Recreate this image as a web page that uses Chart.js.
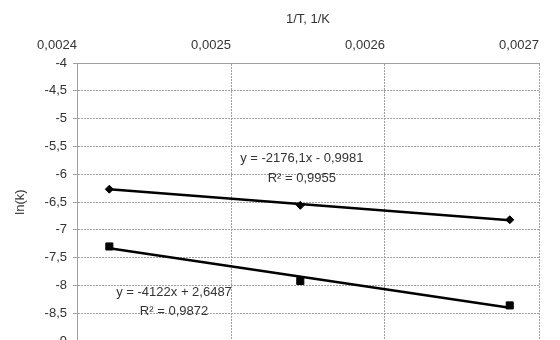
<!DOCTYPE html>
<html>
<head>
<meta charset="utf-8">
<script src="https://cdn.jsdelivr.net/npm/chart.js@4.4.0/dist/chart.umd.min.js"></script>
<style>
  html, body { margin: 0; padding: 0; background: #fff; overflow: hidden; }
  #wrap { width: 560px; height: 360px; }
</style>
</head>
<body>
<div id="wrap"><canvas id="chart" width="560" height="360"></canvas></div>
<script>
// 1/T values (T = 413, 393, 373 K)
const invT = [0.002421, 0.002545, 0.002681];
const lnK1 = [-6.27, -6.56, -6.82];   // diamonds
const lnK2 = [-7.30, -7.92, -8.36];   // squares
// trendline ends
const trend1 = [-6.27, -6.83];
const trend2 = [-7.33, -8.40];
const trendEq1 = ['y = -2176,1x - 0,9981', 'R² = 0,9955'];
const trendEq2 = ['y = -4122x + 2,6487', 'R² = 0,9872'];

const FONT = '"Liberation Sans", Arial, sans-serif';
const TXT = '#333';
const GRID = '#a0a0a0';

const comma = v => String(v).replace('.', ',');
const pts = (xs, ys) => xs.map((x, i) => ({ x, y: ys[i] }));
const ends = [invT[0], invT[invT.length - 1]];

// where the equation labels sit, in data units
const eqPos = [
  { x: 0.002546, y: -5.71, dy: 20, lines: trendEq1 },
  { x: 0.002463, y: -8.13, dy: 19, lines: trendEq2 },
];

const eqLabels = {
  id: 'eqLabels',
  afterDatasetsDraw(chart) {
    const { ctx, scales: { x, y } } = chart;
    ctx.save();
    ctx.font = `13px ${FONT}`;
    ctx.fillStyle = TXT;
    ctx.textAlign = 'center';
    ctx.textBaseline = 'middle';
    eqPos.forEach(p => {
      const px = x.getPixelForValue(p.x), py = y.getPixelForValue(p.y);
      p.lines.forEach((t, i) => ctx.fillText(t, px, py + i * p.dy));
    });
    ctx.restore();
  }
};

new Chart(document.getElementById('chart'), {
  type: 'scatter',
  data: {
    datasets: [
      { data: pts(ends, trend1), showLine: true, borderColor: '#000', borderWidth: 2.5, pointRadius: 0 },
      { data: pts(ends, trend2), showLine: true, borderColor: '#000', borderWidth: 2.5, pointRadius: 0 },
      { data: pts(invT, lnK1), pointStyle: 'rectRot', pointRadius: 4, backgroundColor: '#000', borderColor: '#000' },
      { data: pts(invT, lnK2), pointStyle: 'rect', pointRadius: 5, backgroundColor: '#000', borderColor: '#000' },
    ],
  },
  options: {
    responsive: false, animation: false, devicePixelRatio: 1,
    layout: { padding: { left: 0, top: 0, right: 21, bottom: 19 } },
    plugins: { legend: { display: false }, tooltip: { enabled: false } },
    scales: {
      x: {
        type: 'linear', position: 'top', min: 0.0024, max: 0.0027,
        afterFit: s => { s.height = 63; s.paddingLeft = 0; s.paddingRight = 0; },
        title: { display: true, text: '1/T, 1/K', color: TXT, font: { family: FONT, size: 13 }, padding: { top: 12, bottom: 4 } },
        ticks: { stepSize: 0.0001, color: TXT, font: { family: FONT, size: 13 }, padding: 10, labelOffset: -20,
                 callback: v => comma(v.toFixed(4)) },
        grid: { color: GRID, drawTicks: false },
        border: { display: true, color: GRID, width: 1, dash: [2, 1] },
      },
      y: {
        min: -9, max: -4,
        afterFit: s => { s.width = 77; s.paddingTop = 0; s.paddingBottom = 0; },
        title: { display: true, text: 'ln(k)', color: TXT, font: { family: FONT, size: 13 }, padding: { top: 13, bottom: 0 } },
        ticks: { stepSize: 0.5, color: TXT, font: { family: FONT, size: 13 }, padding: 6,
                 callback: v => comma(v) },
        grid: { color: GRID, tickLength: 4, tickBorderDash: [] },
        border: { display: true, color: GRID, width: 1, dash: [2, 1] },
      },
    },
  },
  plugins: [eqLabels],
});
</script>
</body>
</html>
